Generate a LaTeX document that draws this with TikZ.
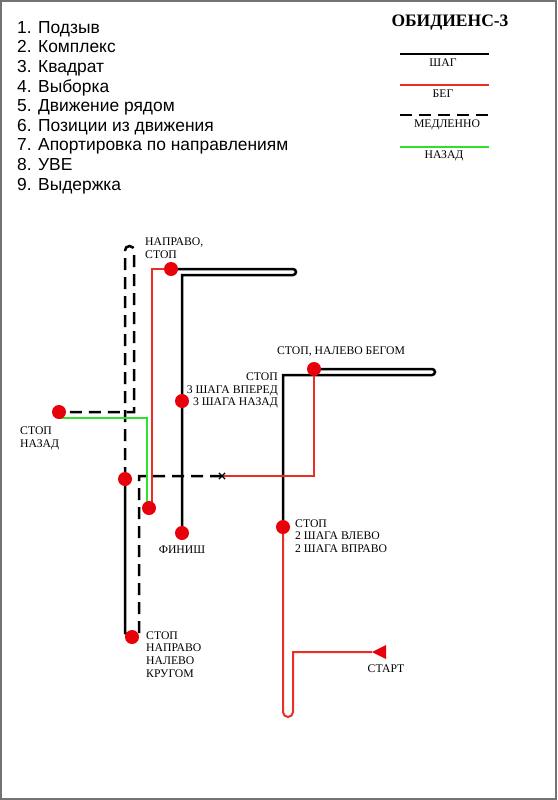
\documentclass[tikz,border=0pt]{standalone}
\usepackage{fontspec}
\setmainfont{Liberation Serif}
\newfontfamily\listfont{Liberation Sans}
\usepackage{xcolor}
\usetikzlibrary{positioning, shapes.misc}

\definecolor{runred}{RGB}{235,45,35}
\definecolor{dotred}{RGB}{232,0,10}
\definecolor{backgreen}{RGB}{45,225,45}
\definecolor{framegray}{RGB}{115,115,115}

\begin{document}
\begin{tikzpicture}[
  x=1pt, y=-1pt,
  font=\fontsize{11.7}{12.7}\selectfont,
  walk/.style={line width=2.5pt, black},
  run/.style={line width=2pt, runred},
  slow/.style={line width=2.5pt, black, dash pattern=on 12pt off 7pt},
  back/.style={line width=2pt, backgreen},
  stopdot/.style={circle, fill=dotred, minimum size=14pt, inner sep=0pt},
  lbl/.style={inner sep=0pt, align=left},
  item/.style={inner sep=0pt, anchor=base west, font=\listfont\fontsize{17.4}{20}\selectfont}
]
\useasboundingbox (0,0) rectangle (557,800);
\draw[framegray, line width=2pt] (1,1) rectangle (556,799);

% exercise list
\foreach \i/\txt in {1/Подзыв, 2/Комплекс, 3/Квадрат, 4/Выборка,
    5/Движение рядом, 6/Позиции из движения,
    7/Апортировка по направлениям, 8/УВЕ, 9/Выдержка}
  \node[item] (item\i) at (17,{33.3+19.6*(\i-1)}) {\i. \txt};

% title and legend
\node[font=\bfseries\fontsize{17.5}{20}\selectfont, inner sep=0pt] (title) at (450,22.5) {ОБИДИЕНС-3};
\draw[walk] (400,54) -- (489,54);
\node[inner sep=0pt] (keywalk) at (443,62.5) {ШАГ};
\draw[run] (400,85) -- (489,85);
\node[inner sep=0pt] (keyrun) at (443,94) {БЕГ};
\draw[slow] (400,115) -- (489,115);
\node[inner sep=0pt] (keyslow) at (447,125) {МЕДЛЕННО};
\draw[back] (400,147) -- (489,147);
\node[inner sep=0pt] (keyback) at (444,155.5) {НАЗАД};

% stops of the route
\coordinate (start) at (372,652);
\coordinate (s1) at (283,527);
\coordinate (s2) at (314,369);
\coordinate (turn) at (222,476);
\coordinate (s3) at (132,637);
\coordinate (s4) at (125,479);
\coordinate (s5) at (59,412);
\coordinate (s6) at (149,508);
\coordinate (s7) at (171,269);
\coordinate (s8) at (182,401);
\coordinate (finish) at (182,533);

% route
\draw[run] (start) -- (293,652) -- (293,690) [rounded corners=5pt] -- (293,717)
  -- (283,717) -- (283,690) [sharp corners] -- (s1);
\draw[walk] (s1) -- (283,375) -- (400,375) [rounded corners=3pt] -- (435,375)
  -- (435,369) -- (400,369) [sharp corners] -- (s2);
\draw[run] (s2) -- (314,476) -- (turn);
\draw[slow] (turn) -- (139,476) -- (139,633) -- (s3);
\draw[walk] (s3) -- (125,633) -- (s4);
\draw[slow] (s4) -- (125,256) [rounded corners=4.5pt] -- (125,246)
  -- (134,246) -- (134,256) [sharp corners] -- (134,412) -- (s5);
\draw[back] (s5) ++(0,6) -- (147,418) |- (s6);
\draw[run] (s6) ++(3,0) |- (s7);
\draw[walk] (s7) -- (260,269) [rounded corners=3pt] -- (296,269)
  -- (296,275) -- (260,275) [sharp corners] -- (182,275) -- (s8) -- (finish);

\node[cross out, draw, line width=1.2pt, minimum size=5pt, inner sep=0pt] (cross) at (turn) {};
\fill[dotred] (start) -- ++(14,-7) -- ++(0,14) -- cycle;
\node[stopdot] (d1) at (s1) {};
\node[stopdot] (d2) at (s2) {};
\node[stopdot] (d3) at (s3) {};
\node[stopdot] (d4) at (s4) {};
\node[stopdot] (d5) at (s5) {};
\node[stopdot] (d6) at (s6) {};
\node[stopdot] (d7) at (s7) {};
\node[stopdot] (d8) at (s8) {};
\node[stopdot] (d9) at (finish) {};

% commands at the stops
\node[lbl, anchor=west] (cmd1) at (295,536) {СТОП\\2 ШАГА ВЛЕВО\\2 ШАГА ВПРАВО};
\node[inner sep=0pt] (cmd2) at (341,352) {СТОП, НАЛЕВО БЕГОМ};
\node[lbl, anchor=west] (cmd3) at (146,654.5) {СТОП\\НАПРАВО\\НАЛЕВО\\КРУГОМ};
\node[lbl, anchor=west] (cmd5) at (20,438.5) {СТОП\\НАЗАД};
\node[lbl, anchor=west] (cmd7) at (145,248.5) {НАПРАВО,\\СТОП};
\node[inner sep=0pt, align=right, anchor=east] (cmd8) at (278,390.5) {СТОП\\3 ШАГА ВПЕРЕД\\3 ШАГА НАЗАД};
\node[inner sep=0pt] (cmdfinish) at (182,550) {ФИНИШ};
\node[inner sep=0pt] (cmdstart) at (386,669) {СТАРТ};
\end{tikzpicture}
\end{document}
